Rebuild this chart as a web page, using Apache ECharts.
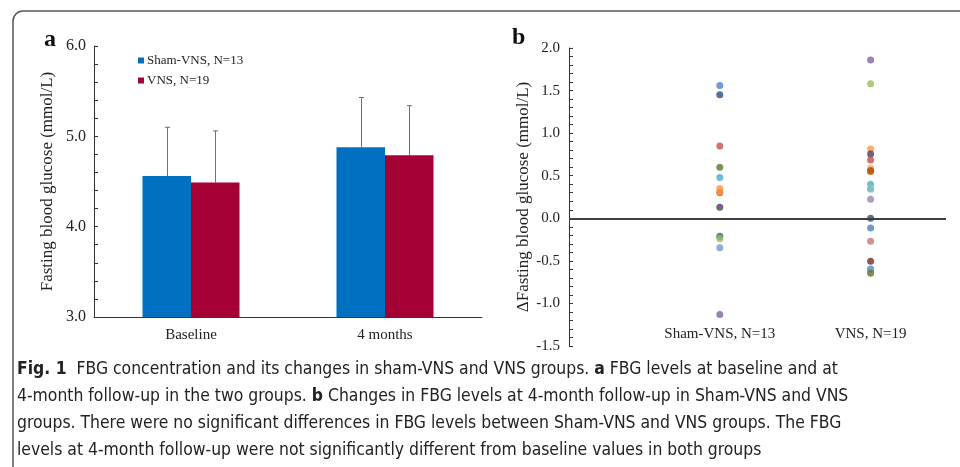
<!DOCTYPE html>
<html>
<head>
<meta charset="utf-8">
<script src="https://cdn.jsdelivr.net/npm/echarts@6/dist/echarts.min.js"></script>
<style>html,body{margin:0;padding:0;background:#fff;}#c{width:960px;height:467px;}</style>
</head>
<body>
<div id="c"></div>
<script>
// Panel a data
var timepoints = ['Baseline', '4 months'];
var shamMean = [4.56, 4.88];
var shamSD = [0.54, 0.55];
var vnsMean = [4.49, 4.79];
var vnsSD = [0.57, 0.55];
var groupNames = ['Sham-VNS, N=13', 'VNS, N=19'];

// Panel b data (change in FBG, mmol/L)
var shamDelta = [1.56, 1.45, 0.85, 0.60, 0.48, 0.35, 0.30, 0.31, 0.13, -0.21, -0.24, -0.345, -1.13];
var vnsDelta = [1.86, 1.58, 0.815, 0.755, 0.685, 0.59, 0.56, 0.55, 0.40, 0.35, 0.34, 0.225, 0.0, -0.115, -0.27, -0.505, -0.595, -0.60, -0.645];
var deltaCategories = ['Sham-VNS, N=13', 'VNS, N=19'];

// styling palette (Excel-like)
var shamColors = ['#4F81BD', '#2C4D75', '#C0504D', '#5F7530', '#4BACC6', '#F79646', '#B65708', '#F79646', '#4D3B62', '#276A7C', '#9BBB59', '#729ACA', '#8064A2'];
var vnsColors = ['#8064A2', '#9BBB59', '#F79646', '#4D3B62', '#C0504D', '#F9AB6B', '#B65708', '#B65708', '#4BACC6', '#AFC97A', '#6FBDD1', '#9983B5', '#2C4D75', '#4F81BD', '#CD7371', '#772C2A', '#729ACA', '#729ACA', '#5F7530'];

var serif = '"Liberation Serif", "Times New Roman", serif';
var capFont = '"Liberation Sans Narrow", "DejaVu Sans Condensed", "Open Sans", sans-serif';

function errBars(means, sds, sideIdx) {
  return {
    type: 'custom',
    xAxisIndex: 0, yAxisIndex: 0,
    silent: true, z: 1,
    renderItem: function (params, api) {
      var i = api.value(0);
      var band = api.size([1, 0])[0];
      var off = (sideIdx === 0 ? -1 : 1) * band * 0.125;
      var p0 = api.coord([i, api.value(1)]);
      var p1 = api.coord([i, api.value(2)]);
      var x = Math.round(p0[0] + off) + 0.5;
      var st = { stroke: '#707070', lineWidth: 1 };
      return { type: 'group', children: [
        { type: 'line', shape: { x1: x, y1: p0[1], x2: x, y2: p1[1] }, style: st },
        { type: 'line', shape: { x1: x - 2.5, y1: p1[1], x2: x + 2.5, y2: p1[1] }, style: st }
      ]};
    },
    data: means.map(function (m, i) { return [i, m, m + sds[i]]; })
  };
}

var chart = echarts.init(document.getElementById('c'), null, { renderer: 'canvas' });
var option = {
  backgroundColor: '#fff',
  animation: false,
  textStyle: { fontFamily: serif },
  legend: {
    data: groupNames,
    orient: 'vertical',
    left: 133, top: 49,
    itemWidth: 6, itemHeight: 6, itemGap: 7,
    icon: 'rect',
    textStyle: { fontFamily: serif, fontSize: 13, color: '#222', padding: [0, 0, 0, -2] }
  },
  grid: [
    { left: 94, top: 46, width: 388, height: 271 },
    { left: 569, top: 48, width: 377, height: 298 }
  ],
  xAxis: [
    {
      type: 'category', gridIndex: 0, data: timepoints,
      axisLine: { lineStyle: { color: '#333', width: 1 } },
      axisTick: { show: false },
      axisLabel: { fontFamily: serif, fontSize: 15, color: '#222', margin: 11 }
    },
    {
      type: 'value', gridIndex: 1, min: 0, max: 2.5, interval: 1,
      axisLine: { show: false }, axisTick: { show: false }, splitLine: { show: false },
      axisLabel: {
        fontFamily: serif, fontSize: 15, color: '#222', margin: -19,
        formatter: function (v) { return v === 1 ? deltaCategories[0] : (v === 2 ? deltaCategories[1] : ''); }
      }
    }
  ],
  yAxis: [
    {
      type: 'value', gridIndex: 0, min: 3, max: 6, interval: 1,
      name: 'Fasting blood glucose (mmol/L)', nameLocation: 'middle', nameGap: 38,
      nameTextStyle: { fontFamily: serif, fontSize: 17, color: '#222' },
      axisLine: { show: true, lineStyle: { color: '#333', width: 1 } },
      axisTick: { show: true, inside: true, length: 4, lineStyle: { color: '#333' } },
      minorTick: { show: true, splitNumber: 5, length: 4, lineStyle: { color: '#333' } },
      splitLine: { show: false },
      axisLabel: { fontFamily: serif, fontSize: 16, color: '#222', margin: 8, formatter: function (v) { return v.toFixed(1); } }
    },
    {
      type: 'value', gridIndex: 1, min: -1.5, max: 2.0, interval: 0.5,
      name: '\u0394Fasting blood glucose (mmol/L)', nameLocation: 'middle', nameGap: 33,
      nameTextStyle: { fontFamily: serif, fontSize: 17, color: '#222' },
      axisLine: { show: true, onZero: false, lineStyle: { color: '#333', width: 1 } },
      axisTick: { show: true, inside: true, length: 4, lineStyle: { color: '#333' } },
      minorTick: { show: true, splitNumber: 5, length: 4, lineStyle: { color: '#333' } },
      splitLine: { show: false },
      axisLabel: { fontFamily: serif, fontSize: 15, color: '#222', margin: 9, formatter: function (v) { return v.toFixed(1); } }
    }
  ],
  series: [
    {
      name: groupNames[0], type: 'bar', xAxisIndex: 0, yAxisIndex: 0,
      data: shamMean, barWidth: '25%', barGap: '0%',
      itemStyle: { color: '#0070C0' }
    },
    {
      name: groupNames[1], type: 'bar', xAxisIndex: 0, yAxisIndex: 0,
      data: vnsMean, barWidth: '25%', barGap: '0%',
      itemStyle: { color: '#A50034' }
    },
    errBars(shamMean, shamSD, 0),
    errBars(vnsMean, vnsSD, 1),
    {
      name: 'shamDelta', type: 'scatter', xAxisIndex: 1, yAxisIndex: 1,
      symbolSize: 7, z: 3,
      data: shamDelta.map(function (v, i) { return { value: [1, v], itemStyle: { color: shamColors[i] } }; }),
      markLine: {
        silent: true, symbol: ['none', 'none'], label: { show: false },
        lineStyle: { color: '#404040', width: 2, type: 'solid' },
        data: [{ yAxis: 0 }]
      }
    },
    {
      name: 'vnsDelta', type: 'scatter', xAxisIndex: 1, yAxisIndex: 1,
      symbolSize: 7, z: 3,
      data: vnsDelta.map(function (v, i) { return { value: [2, v], itemStyle: { color: vnsColors[i] } }; })
    }
  ],
  graphic: [
    { type: 'rect', shape: { x: 13, y: 11, width: 1000, height: 520, r: 10 }, style: { fill: 'none', stroke: '#555', lineWidth: 1.5 }, silent: true },
    { type: 'text', left: 44, top: 28, style: { text: 'a', font: 'bold 24px ' + serif, fill: '#111' } },
    { type: 'text', left: 512, top: 26, style: { text: 'b', font: 'bold 24px ' + serif, fill: '#111' } },
    {
      type: 'text', left: 17, top: 356,
      style: {
        text: '{b|Fig. 1}  FBG concentration and its changes in sham-VNS and VNS groups. {b|a} FBG levels at baseline and at\n' +
              '4-month follow-up in the two groups. {b|b} Changes in FBG levels at 4-month follow-up in Sham-VNS and VNS\n' +
              'groups. There were no significant differences in FBG levels between Sham-VNS and VNS groups. The FBG\n' +
              'levels at 4-month follow-up were not significantly different from baseline values in both groups',
        font: '17.4px ' + capFont, fill: '#222', lineHeight: 27,
        rich: {
          b: { fontFamily: capFont, fontSize: 17.4, fontWeight: 'bold', fill: '#222', lineHeight: 27 }
        }
      }
    }
  ]
};
chart.setOption(option);
</script>
</body>
</html>
